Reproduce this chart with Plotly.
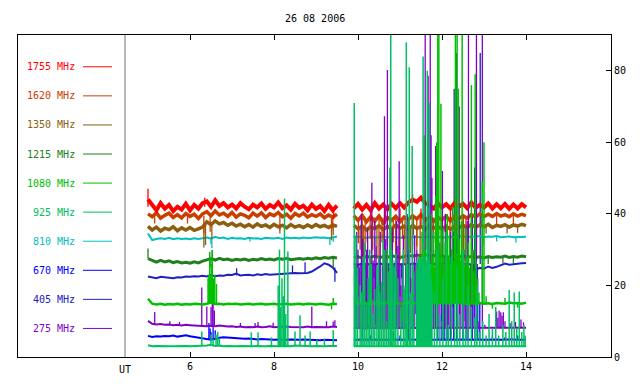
import plotly.graph_objects as go

TITLE = "26 08 2006"
X_TICKS = [6, 8, 10, 12, 14]
Y_TICKS = [0, 20, 40, 60, 80]
FREQS = ["1755 MHz", "1620 MHz", "1350 MHz", "1215 MHz", "1080 MHz",
         "925 MHz", "810 MHz", "670 MHz", "405 MHz", "275 MHz"]
COLORS = ["#ff0000", "#c84000", "#8a5f10", "#208020", "#00c000",
          "#00c060", "#00c0c0", "#0000ff", "#2020c0", "#8000c8"]

SEG1_START = 5.0   # UT hours, 0.1 h sampling
SEG2_START = 9.9

# ---------------- 1755 MHz ----------------
F1755_A = [44, 42.5, 41, 43, 41.5, 42.5, 40.8, 42, 41.2, 42.8, 41, 42.5, 41.5, 43, 43.5, 42, 43.8, 42.2, 43, 41.8,
           42.6, 41.5, 43, 42, 41.3, 42.6, 41.8, 42.9, 41.4, 42.5, 41.8, 43.2, 41.6, 42.4, 41.2, 42.8, 41.7, 42.3, 41, 42.6,
           41.4, 42.2, 40.8, 42.5, 41, 42.3]
F1755_B = [41.5, 42.8, 41.2, 42.5, 41, 43, 41.5, 42.6, 41.3, 42.8, 41.6, 43, 41.8, 43.2, 44, 43.4, 44.5, 43, 42.4, 41.5,
           43, 41.8, 42.7, 41.5, 43, 42, 42.8, 41.6, 43.2, 41.7, 42.5, 41.8, 42.9, 41.5, 42.7, 41.6, 42.8, 41.4, 42.6, 41.5,
           42.7, 41.8]
F1755_SPIKES = [(5.0, 42, 47), (9.42, 41, 38.5), (10.3, 41.5, 38), (10.65, 41.5, 37), (11.0, 41.5, 38.5),
                (11.5, 41.5, 37), (12.2, 41.5, 38), (6.35, 42, 44.5), (11.3, 43, 45.5)]

# ---------------- 1620 MHz ----------------
F1620_A = [40, 39.2, 40.3, 38.8, 39.6, 40.2, 39, 39.8, 38.9, 40.1, 39.3, 39.9, 38.7, 40, 40.6, 39.5, 40.8, 39.7, 40.2, 39.3,
           40.4, 39.1, 40, 39.6, 38.9, 40.2, 39.4, 40.3, 39, 40, 39.5, 40.4, 39.2, 39.9, 38.8, 40.1, 39.4, 40.2, 39.1, 39.8,
           39.3, 40, 38.9, 39.7, 39.1, 39.9]
F1620_B = [39.5, 38.2, 39.6, 37.8, 39.2, 38, 39.4, 37.5, 39, 38.2, 39.3, 37.8, 39.1, 38.4, 39.5, 38.6, 39.8, 38.3, 39.2, 37.9,
           39, 38.4, 39.3, 38, 39.4, 38.6, 39.5, 38.8, 39.8, 39.1, 40, 39.2, 39.9, 39.3, 40.1, 39.4, 39.8, 39.2, 40, 39.4,
           39.9, 39.5]
F1620_SPIKES = [(5.16, 39.5, 37.3), (5.94, 39.5, 37.3), (6.33, 39.5, 34.5), (6.48, 39.5, 35), (8.14, 39.5, 35.5),
                (9.37, 39.5, 35), (9.4, 39.5, 36),
                (10.01, 39, 31.8), (10.1, 39, 27), (10.17, 39, 29.5), (10.29, 39, 33), (10.35, 39, 30), (10.4, 39, 36),
                (10.5, 39, 26), (10.57, 39, 32), (10.62, 39, 24), (10.7, 39, 31), (10.76, 39, 28.5), (10.84, 39, 32),
                (10.9, 39, 27), (10.98, 39, 24.8), (11.06, 39, 33), (11.12, 39, 26), (11.2, 39, 29.5), (11.32, 39, 34),
                (11.4, 39, 31), (11.48, 39, 28), (11.57, 39, 26), (11.65, 39, 30), (11.73, 39, 29), (11.8, 39, 32),
                (11.91, 39, 33), (12.0, 39, 28), (12.07, 39, 35), (12.19, 39, 30), (12.25, 39, 27), (12.31, 39, 34),
                (12.4, 39, 31), (12.51, 39, 28.5), (12.57, 39, 30), (12.63, 39, 32), (12.7, 39, 28), (12.79, 39, 35),
                (12.95, 39.5, 36.5), (13.3, 39.5, 37), (13.7, 39.5, 37)]

# ---------------- 1350 MHz ----------------
F1350_A = [36.5, 35.5, 36.3, 35.2, 36, 35.6, 36.4, 35.3, 36.1, 35.5, 36.2, 35.4, 35.8, 36.3, 37.8, 37, 38, 37.2, 37.6, 36.8,
           37.4, 36.6, 37.1, 36.4, 37, 36.3, 37.2, 36.5, 36.9, 36.2, 37.1, 36.4, 36.8, 36.1, 37, 36.3, 36.7, 36.2, 36.9, 36.3,
           37, 36.4, 36.8, 36.2, 36.9, 36.5]
F1350_B = [36.8, 35.8, 36.6, 35.5, 36.4, 35.9, 36.7, 35.6, 36.5, 35.8, 36.9, 36, 36.6, 35.7, 36.8, 35.9, 36.5, 35.6, 36.7, 36,
           36.4, 35.8, 36.6, 35.7, 36.5, 36.1, 36.8, 36.2, 37, 36.3, 36.9, 36.4, 37.1, 36.2, 36.8, 36.5, 37, 36.3, 36.9, 36.6,
           37.1, 36.7]
F1350_SPIKES = [(6.33, 37, 30.6), (6.37, 37, 31.3), (6.52, 37, 33), (8.14, 36.5, 34.5), (9.37, 36.5, 32.6), (9.41, 36.5, 34),
                (10.05, 36.3, 30), (10.13, 36.3, 26), (10.22, 36.3, 32), (10.32, 36.3, 29), (10.45, 36.3, 28),
                (10.6, 36.3, 25), (10.7, 36.3, 31), (10.8, 36.3, 30), (10.9, 36.3, 29), (11.0, 36.3, 27),
                (11.1, 36.3, 33), (11.25, 36.3, 29), (11.4, 36.3, 30), (11.55, 36.3, 27), (11.7, 36.3, 31),
                (11.85, 36.3, 30), (12.1, 36.3, 32), (12.25, 36.3, 28), (12.4, 36.3, 30), (12.55, 36.3, 27),
                (12.7, 36.3, 33), (12.82, 36.3, 31), (13.05, 36.5, 34.5), (13.55, 36.5, 34.5), (13.8, 36.5, 34.7)]

# ---------------- 1215 MHz ----------------
F1215_A = [27.5, 27, 26.5, 27, 26.6, 26.9, 26.4, 26.7, 26.3, 26.5, 26.2, 26.6, 26.3, 26.8, 27.2, 27.5, 27.1, 27.6, 27.2, 27.4,
           27, 27.3, 27.1, 27.4, 27, 27.3, 27.1, 27.5, 27.2, 27.4, 27.1, 27.5, 27.3, 27.6, 27.2, 27.4, 27.5, 27.3, 27.6, 27.4,
           27.7, 27.5, 27.8, 27.6, 27.9, 27.7]
F1215_B = [27.8, 28.0, 27.7, 28.1, 27.9, 28.2, 27.8, 28.0, 27.9, 28.3, 28.0, 27.8, 28.1, 28.4, 28.2, 28.5, 28.3, 28.6, 28.2, 28.4,
           28.0, 28.3, 27.9, 28.1, 28.2, 28.0, 28.3, 27.9, 28.1, 27.8, 28.0, 27.7, 28.1, 27.8, 28.0, 27.9, 28.2, 27.8, 28.1, 27.9,
           28.2, 28.0]
F1215_SPIKES = [(5.0, 27.5, 30.3), (6.48, 27.3, 25.2), (9.41, 27.6, 24.8),
                (10.3, 28, 24), (10.8, 28, 22), (11.5, 28, 23), (12.2, 28, 24), (12.72, 28, 25.2),
                (13.1, 28, 26), (13.45, 28, 26.2), (13.7, 28, 26.2)]

# ---------------- 1080 MHz ----------------
F1080_A = [16.3, 14.9, 14.7, 14.9, 14.6, 14.8, 14.7, 14.9, 14.6, 14.8, 14.7, 14.9, 14.8, 14.7, 14.9, 15.2, 14.8, 14.9, 14.7, 14.9,
           14.8, 14.9, 14.7, 14.8, 14.9, 14.7, 14.8, 14.9, 14.7, 14.8, 14.9, 14.7, 14.8, 14.9, 14.7, 14.8, 14.9, 14.7, 14.9, 14.8,
           14.7, 14.9, 14.8, 14.6, 14.9, 14.8]
F1080_B = [14.8, 15.0, 14.9, 15.1, 14.8, 15.0, 14.9, 15.1, 15.0, 14.8, 15.1, 14.9, 15.0, 15.2, 14.9, 15.1, 15.0, 14.8, 15.1, 15.0,
           14.9, 15.0, 15.1, 14.9, 15.2, 15.0, 15.1, 14.7, 15.0, 14.8, 15.1, 14.9, 15.0, 14.8, 15.1, 15.0, 14.9, 15.2, 15.0, 15.1,
           14.9, 15.2]
F1080_SPIKES = [(6.43, 14.8, 22), (6.45, 14.8, 23), (6.47, 14.8, 29.4), (6.49, 14.8, 22.5), (6.51, 14.8, 26),
                (6.53, 14.8, 29.9), (6.56, 14.8, 22), (6.59, 14.8, 23), (6.63, 14.8, 20.4), (9.37, 14.8, 13.3),
                (9.41, 14.8, 16.5),
                (9.95, 15, 22), (10.1, 15, 18), (10.15, 15, 8), (10.25, 15, 9), (10.3, 15, 25), (10.5, 15, 20),
                (10.7, 15, 30), (10.9, 15, 24), (11.05, 15, 10), (11.1, 15, 19), (11.3, 15, 26), (11.4, 15, 22),
                (11.45, 15, 22), (11.475, 15, 28), (11.5, 15, 20), (11.525, 15, 35), (11.55, 15, 25), (11.575, 15, 62),
                (11.6, 15, 30), (11.625, 15, 24), (11.65, 15, 38), (11.675, 15, 27), (11.7, 15, 33), (11.725, 15, 22),
                (11.75, 15, 40), (11.775, 15, 28), (11.8, 15, 35), (11.825, 15, 25), (11.85, 15, 45), (11.875, 15, 60),
                (11.9, 15, 95), (11.925, 15, 95), (11.95, 15, 30), (11.975, 15, 70.8), (12.0, 15, 28), (12.025, 15, 36),
                (12.05, 15, 26), (12.075, 15, 32), (12.1, 15, 24), (12.125, 15, 40), (12.15, 15, 28), (12.175, 15, 34),
                (12.2, 15, 26), (12.225, 15, 30), (12.25, 15, 42), (12.275, 15, 27), (12.3, 15, 35), (12.32, 15, 95),
                (12.35, 15, 29), (12.36, 15, 95), (12.39, 15, 75), (12.41, 15, 33), (12.44, 15, 27), (12.46, 15, 38),
                (12.48, 15, 95), (12.51, 15, 30), (12.54, 15, 26), (12.57, 15, 36), (12.6, 15, 28), (12.63, 15, 32),
                (12.66, 15, 25), (12.7, 15, 76), (12.73, 15, 30), (12.76, 15, 24), (12.79, 15, 79), (12.81, 15, 27),
                (12.84, 15, 22), (12.88, 15, 18), (12.96, 15, 49), (13.0, 15, 60), (13.05, 15, 17),
                (13.2, 15, 13.5), (13.5, 15, 16.5), (13.8, 15, 13.8)]

# ---------------- 925 MHz ----------------
F925_A = [3.3, 3.0, 3.1, 3.0, 3.1, 3.0, 3.0, 3.1, 3.0, 3.1, 3.0, 3.0, 3.1, 3.0, 3.2, 3.4, 3.1, 3.2, 3.0, 3.1,
          3.0, 3.0, 3.1, 3.0, 3.1, 3.0, 3.1, 3.0, 3.0, 3.1, 3.0, 3.1, 3.0, 3.1, 3.0, 3.2, 3.1, 3.0, 3.1, 3.0,
          3.1, 3.0, 3.0, 3.1, 3.0, 3.1]
F925_B = [3.0, 3.1, 3.0, 3.1, 3.0, 3.0, 3.1, 3.0, 3.1, 3.0, 3.0, 3.1, 3.0, 3.1, 3.0, 3.1, 3.0, 3.0, 3.1, 3.0,
          3.1, 3.0, 3.0, 3.1, 3.0, 3.1, 3.0, 3.0, 3.1, 3.0, 3.1, 3.0, 3.0, 3.1, 3.0, 3.1, 3.0, 3.0, 3.1, 3.0,
          3.1, 3.0]
F925_SPIKES = [(6.28, 3, 7.1), (6.5, 3, 6.3), (6.55, 3, 5), (6.62, 3, 6.3), (6.66, 3, 7), (6.7, 3, 5.2),
               (7.46, 3, 6.9), (7.62, 3, 6.9), (7.94, 3, 5.5), (8.1, 3, 20), (8.13, 3, 30), (8.16, 3, 14),
               (8.19, 3, 22), (8.22, 3, 17), (8.25, 3, 44.3), (8.28, 3, 12), (8.33, 3, 29.5), (8.5, 3, 7.1),
               (8.62, 3, 11.7), (8.74, 3, 6.0), (8.86, 3, 7.1), (9.02, 3, 4.8), (9.2, 3, 5), (9.41, 3, 7.5),
               (9.91, 3, 71), (9.95, 3, 34), (9.99, 3, 25), (10.05, 3, 20), (10.09, 3, 18), (10.12, 3, 28),
               (10.16, 3, 32), (10.2, 3, 15), (10.24, 3, 22), (10.28, 3, 30), (10.32, 3, 26), (10.36, 3, 12),
               (10.4, 3, 19), (10.45, 3, 25), (10.49, 3, 28), (10.52, 3, 18), (10.56, 3, 21), (10.6, 3, 33),
               (10.64, 3, 30), (10.68, 3, 10), (10.72, 3, 24), (10.76, 3, 53),
               (10.78, 3, 95), (10.8, 3, 30), (10.83, 3, 27), (10.86, 3, 25), (10.9, 3, 29), (10.95, 3, 22),
               (11.02, 3, 14), (11.08, 3, 30), (11.12, 3, 20), (11.15, 3, 88), (11.18, 3, 26), (11.22, 3, 81),
               (11.25, 3, 18), (11.29, 3, 59), (11.33, 3, 24), (11.40, 3, 27), (11.42, 3, 25), (11.44, 3, 28),
               (11.46, 3, 26), (11.48, 3, 27), (11.50, 3, 24), (11.52, 3, 28), (11.54, 3, 26), (11.55, 3, 84),
               (11.56, 3, 27), (11.58, 3, 25), (11.60, 3, 28), (11.62, 3, 26), (11.64, 3, 27), (11.65, 3, 80),
               (11.66, 3, 25), (11.68, 3, 27), (11.70, 3, 71), (11.72, 3, 26), (11.74, 3, 22), (11.76, 3, 20),
               (11.82, 3, 18), (11.88, 3, 30), (11.95, 3, 12), (12.02, 3, 22), (12.1, 3, 35), (12.15, 3, 9),
               (12.22, 3, 28), (12.3, 3, 16), (12.36, 3, 25), (12.42, 3, 12), (12.5, 3, 30), (12.56, 3, 8),
               (12.62, 3, 20), (12.7, 3, 14), (12.78, 3, 11), (12.83, 3, 20), (12.9, 3, 7), (12.97, 3, 10),
               (13.05, 3, 6), (13.12, 3, 12), (13.2, 3, 8), (13.28, 3, 14), (13.35, 3, 6), (13.45, 3, 9),
               (13.52, 3, 7), (13.6, 3, 18.7), (13.66, 3, 10), (13.72, 3, 18), (13.78, 3, 8), (13.84, 3, 18.3),
               (13.9, 3, 7), (13.95, 3, 9), (13.98, 3, 6)]

# ---------------- 810 MHz ----------------
F810_A = [34.5, 32.7, 33, 33.2, 33, 33.3, 32.9, 33.2, 33, 33.1, 32.9, 33.2, 33, 33.3, 33.4, 33.1, 33.6, 33.2, 33.4, 33,
          33.3, 33.1, 33.2, 33, 33.3, 33.1, 33.2, 33, 33.3, 33.2, 33.1, 33.3, 33, 33.4, 33.2, 33.3, 33.1, 33.4, 33.2, 33.3,
          33.5, 33.3, 33.4, 33.2, 33.5, 33.7]
F810_B = [33.4, 33.6, 33.5, 33.3, 33.6, 33.4, 33.5, 33.7, 33.4, 33.6, 33.5, 33.3, 33.6, 33.4, 33.5, 33.6, 33.4, 33.5, 33.7, 33.4,
          33.6, 33.5, 33.4, 33.6, 33.5, 33.7, 33.8, 33.5, 33.7, 33.6, 33.8, 33.5, 33.7, 33.6, 33.8, 33.5, 33.6, 33.7, 33.5, 33.6,
          33.5, 33.6]
F810_SPIKES = [(6.5, 33.3, 31.5), (6.52, 33.3, 30.5), (7.43, 33.2, 32.3), (9.33, 33.4, 31.3), (9.41, 33.4, 32.2),
               (10.1, 33.5, 30), (10.4, 33.5, 31), (10.9, 33.5, 29), (11.3, 33.5, 31), (11.9, 33.5, 30),
               (12.5, 33.5, 31), (12.98, 33.6, 31.3), (13.3, 33.6, 32.3), (13.76, 33.6, 32)]

# ---------------- 670 MHz ----------------
F670_A = [5.9, 5.6, 5.8, 5.7, 5.9, 5.8, 6.0, 5.7, 5.9, 6.1, 5.8, 5.6, 5.3, 5.2, 4.9, 4.8, 5.0, 5.4, 5.5, 5.4,
          5.5, 5.3, 5.2, 5.1, 5.2, 5.0, 4.9, 5.0, 4.9, 4.9, 4.8, 4.9, 4.8, 4.8, 4.9, 4.8, 4.8, 4.9, 4.8, 4.8,
          4.8, 4.7, 4.8, 4.7, 4.8, 4.7]
F670_B = [4.8, 4.9, 4.8, 4.9, 4.8, 4.9, 4.9, 4.8, 4.9, 4.8, 4.9, 4.8, 4.9, 4.8, 4.9, 4.8, 4.9, 4.8, 4.9, 4.8,
          4.9, 4.8, 4.9, 4.8, 4.9, 4.8, 4.9, 4.8, 4.9, 4.8, 4.9, 4.8, 4.9, 4.8, 4.9, 4.8, 4.9, 4.8, 4.9, 4.8,
          4.9, 4.8]
F670_SPIKES = [(6.45, 4.9, 9.5), (6.48, 4.9, 8), (6.5, 5, 7), (6.55, 5, 9), (6.6, 5, 7.5),
               (10.1, 4.85, 8), (10.3, 4.85, 6), (10.5, 4.85, 12), (10.84, 4.85, 7), (11.0, 4.85, 6),
               (11.2, 4.85, 10), (11.45, 4.85, 9), (11.6, 4.85, 14), (11.75, 4.85, 8), (11.9, 4.85, 18),
               (12.0, 4.85, 25), (12.05, 4.85, 15), (12.12, 4.85, 30), (12.2, 4.85, 22), (12.28, 4.85, 35),
               (12.35, 4.85, 20), (12.42, 4.85, 28), (12.5, 4.85, 18), (12.57, 4.85, 25), (12.62, 4.85, 30),
               (12.72, 4.85, 40), (12.78, 4.85, 53), (12.85, 4.85, 22), (12.9, 4.85, 15), (13.2, 4.85, 6),
               (13.5, 4.85, 5.5), (13.8, 4.85, 6)]

# ---------------- 405 MHz ----------------
F405_A = [22.5, 22.3, 22.0, 22.4, 22.2, 22.1, 22.0, 22.3, 22.2, 22.5, 22.4, 22.6, 22.5, 22.7, 22.5, 22.9, 22.6, 22.8, 22.7, 23.0,
          22.9, 23.3, 22.8, 22.9, 23.0, 22.8, 23.1, 22.9, 23.2, 23.0, 23.1, 23.2, 23.3, 23.4, 23.3, 23.5, 23.4, 23.4, 23.5, 23.9,
          24.5, 25.3, 26.2, 25.8, 25.0, 23.5]
F405_B = [26.0, 25.8, 26.1, 25.9, 26.0, 25.8, 26.2, 25.9, 26.0, 25.8, 26.1, 25.9, 26.0, 25.8, 26.1, 26.0, 25.9, 26.1, 25.8, 26.0,
          26.1, 25.9, 26.0, 26.1, 25.9, 26.0, 25.8, 26.0, 25.9, 24.4, 24.9, 24.7, 25.3, 24.9, 25.2, 25.7, 26.1, 25.8, 26.0, 26.1,
          26.2, 26.3]
F405_SPIKES = [(7.11, 22.8, 24.8), (8.44, 23.4, 25.6), (8.74, 23.5, 26.5), (9.45, 25.0, 21.0),
               (9.92, 26, 8), (9.95, 26, 12), (9.98, 26, 15), (10.02, 26, 17), (10.07, 26, 20), (10.1, 26, 9),
               (10.15, 26, 12), (10.18, 26, 14), (10.22, 26, 18), (10.27, 26, 11), (10.31, 26, 9), (10.35, 26, 16),
               (10.38, 26, 22), (10.42, 26, 9), (10.48, 26, 16), (10.52, 26, 13), (10.58, 26, 10), (10.62, 26, 8),
               (10.65, 26, 20), (10.69, 26, 16), (10.72, 26, 14), (10.77, 26, 10), (10.84, 26, 15), (10.88, 26, 18),
               (10.92, 26, 12), (10.96, 26, 8), (11.0, 26, 17), (11.04, 26, 22), (11.08, 26, 10), (11.14, 26, 16),
               (11.18, 26, 14), (11.24, 26, 9), (11.3, 26, 20), (11.34, 26, 16), (11.38, 26, 12), (11.42, 26, 19),
               (11.6, 26, 20), (11.8, 26, 18), (11.9, 26, 16), (12.0, 26, 10), (12.1, 26, 12), (12.18, 26, 20),
               (12.26, 26, 14), (12.29, 26, 75), (12.34, 26, 85), (12.35, 26, 15), (12.44, 26, 22), (12.52, 26, 10),
               (12.6, 26, 18), (12.68, 26, 16), (12.75, 26, 20), (12.84, 26, 21), (12.91, 26, 85)]

# ---------------- 275 MHz ----------------
F275_A = [10.1, 9.3, 9.1, 9.2, 9.0, 9.1, 8.9, 9.0, 8.8, 9.0, 8.9, 8.8, 8.7, 8.8, 8.6, 8.7, 8.6, 8.8, 8.6, 8.5,
          8.6, 8.4, 8.5, 8.3, 8.4, 8.3, 8.5, 8.3, 8.4, 8.6, 8.3, 8.4, 8.3, 8.5, 8.4, 8.3, 8.4, 8.3, 8.5, 8.3,
          8.4, 8.3, 8.4, 8.3, 8.5, 8.4]
F275_B = [8.2, 8.1, 8.2, 8.0, 8.1, 8.2, 8.1, 8.0, 8.2, 8.1, 8.1, 8.0, 8.2, 8.1, 8.2, 8.0, 8.1, 8.2, 8.1, 8.0,
          8.2, 8.1, 8.1, 8.0, 8.2, 8.1, 8.2, 8.0, 8.1, 8.2, 8.1, 8.0, 8.2, 8.1, 8.1, 8.0, 8.2, 8.1, 8.2, 8.0,
          8.1, 8.2]
F275_SPIKES = [(5.16, 9.1, 12.6), (5.52, 9.0, 10), (5.75, 9.0, 9.8), (6.28, 8.7, 19.4), (6.4, 8.7, 14.1),
               (6.5, 8.7, 14.0), (6.53, 8.7, 29.9), (6.55, 8.7, 19), (6.58, 8.7, 13), (7.2, 8.4, 9.5),
               (7.55, 8.3, 9.5), (7.62, 8.3, 9.8), (7.98, 8.3, 9.6), (8.9, 8.4, 14.1), (9.25, 8.3, 10),
               (9.41, 8.4, 9.9), (9.45, 8.4, 10.3),
               (9.93, 8.1, 20), (9.97, 8.1, 35), (10.0, 8.1, 30), (10.03, 8.1, 25), (10.05, 8.1, 15), (10.08, 8.1, 40),
               (10.11, 8.1, 33), (10.14, 8.1, 18), (10.17, 8.1, 24), (10.2, 8.1, 30), (10.23, 8.1, 36),
               (10.25, 8.1, 22), (10.29, 8.1, 19), (10.33, 8.1, 48.7), (10.36, 8.1, 27), (10.4, 8.1, 38),
               (10.43, 8.1, 31), (10.45, 8.1, 15), (10.48, 8.1, 20), (10.5, 8.1, 28), (10.53, 8.1, 35),
               (10.56, 8.1, 20), (10.59, 8.1, 24), (10.63, 8.1, 67.3), (10.66, 8.1, 33), (10.69, 8.1, 30),
               (10.70, 8.1, 80.2), (10.74, 8.1, 25), (10.78, 8.1, 22), (10.82, 8.1, 36), (10.85, 8.1, 20),
               (10.89, 8.1, 27), (10.92, 8.1, 38), (10.95, 8.1, 31), (10.98, 8.1, 54.7), (11.02, 8.1, 20),
               (11.05, 8.1, 26), (11.08, 8.1, 34), (11.1, 8.1, 18), (11.14, 8.1, 25), (11.17, 8.1, 40),
               (11.2, 8.1, 30), (11.23, 8.1, 28), (11.26, 8.1, 22), (11.3, 8.1, 36), (11.32, 8.1, 20),
               (11.35, 8.1, 34), (11.4, 8.1, 30), (11.45, 8.1, 15), (11.5, 8.1, 25), (11.55, 8.1, 20),
               (11.60, 8.1, 95), (11.67, 8.1, 78.6), (11.72, 8.1, 95), (11.74, 8.1, 62), (11.76, 8.1, 50),
               (11.8, 8.1, 30), (11.85, 8.1, 59), (11.9, 8.1, 20), (11.95, 8.1, 32), (12.01, 8.1, 52),
               (12.05, 8.1, 28), (12.08, 8.1, 40), (12.12, 8.1, 18), (12.16, 8.1, 26), (12.2, 8.1, 35),
               (12.24, 8.1, 30), (12.3, 8.1, 22), (12.37, 8.1, 34), (12.41, 8.1, 70), (12.45, 8.1, 22),
               (12.5, 8.1, 26), (12.55, 8.1, 30), (12.6, 8.1, 38), (12.63, 8.1, 95), (12.67, 8.1, 24),
               (12.7, 8.1, 16), (12.76, 8.1, 30), (12.82, 8.1, 95), (12.88, 8.1, 10), (12.96, 8.1, 95),
               (13.02, 8.1, 9), (13.3, 8.1, 12.7), (13.33, 8.1, 11), (13.36, 8.1, 13), (13.4, 8.1, 12.5),
               (13.43, 8.1, 11.5), (13.46, 8.1, 12.5), (13.5, 8.1, 10), (13.62, 8.1, 9.5), (13.75, 8.1, 9.8),
               (13.88, 8.1, 10.5), (13.94, 8.1, 9.7)]

SERIES_A = [F1755_A, F1620_A, F1350_A, F1215_A, F1080_A, F925_A, F810_A, F670_A, F405_A, F275_A]
SERIES_B = [F1755_B, F1620_B, F1350_B, F1215_B, F1080_B, F925_B, F810_B, F670_B, F405_B, F275_B]
SERIES_SPIKES = [F1755_SPIKES, F1620_SPIKES, F1350_SPIKES, F1215_SPIKES, F1080_SPIKES,
                 F925_SPIKES, F810_SPIKES, F670_SPIKES, F405_SPIKES, F275_SPIKES]

# drawing style (not data)
BASE_WIDTH = [4.0, 3.5, 3.5, 3.0, 2.5, 2.0, 2.0, 2.0, 2.0, 2.0]
SPIKE_WIDTH = [1.3, 1.3, 1.3, 1.3, 1.5, 1.5, 1.3, 1.3, 1.3, 1.3]
DRAW_ORDER = [8, 7, 3, 6, 2, 1, 0, 9, 4, 5]


def times(start, n):
    return [round(start + 0.1 * i, 3) for i in range(n)]


fig = go.Figure()
for k in DRAW_ORDER:
    a, b = SERIES_A[k], SERIES_B[k]
    xs = times(SEG1_START, len(a)) + [None] + times(SEG2_START, len(b))
    ys = a + [None] + b
    fig.add_trace(go.Scatter(x=xs, y=ys, mode="lines", line=dict(color=COLORS[k], width=BASE_WIDTH[k]),
                             hoverinfo="skip", name=FREQS[k]))
    sx, sy = [], []
    for t, lo, hi in SERIES_SPIKES[k]:
        sx += [t, t, None]
        sy += [lo, hi, None]
    fig.add_trace(go.Scatter(x=sx, y=sy, mode="lines", line=dict(color=COLORS[k], width=SPIKE_WIDTH[k]),
                             hoverinfo="skip", name=FREQS[k]))

# layout geometry (pixels)
L, R, T, B = 18, 611, 35, 359
W_PX, H_PX = R - L, B - T
X_LO, X_HI = 6 - (190 - L) / 42.0, 6 + (R - 190) / 42.0
SEP_X = 6 + (125 - 190) / 42.0

annotations = [dict(text=TITLE, x=0.5, y=(B - 18) / H_PX, xref="paper", yref="paper", showarrow=False,
                    xanchor="center", yanchor="middle", font=dict(size=10)),
               dict(text="UT", x=SEP_X, y=0, xref="x", yref="paper", showarrow=False, xanchor="center",
                    yanchor="top", yshift=-5, font=dict(size=10))]
shapes = [dict(type="line", xref="x", yref="paper", x0=SEP_X, x1=SEP_X, y0=0, y1=1,
               line=dict(color="#707070", width=1))]
for i, name in enumerate(FREQS):
    ypx = 67 + 29.25 * i
    yp = (B - ypx) / H_PX
    annotations.append(dict(text=name, x=(77 - L) / W_PX, y=yp, xref="paper", yref="paper", showarrow=False,
                            xanchor="right", yanchor="middle", font=dict(size=10, color=COLORS[i])))
    shapes.append(dict(type="line", xref="paper", yref="paper", x0=(83 - L) / W_PX, x1=(112 - L) / W_PX,
                       y0=yp, y1=yp, line=dict(color=COLORS[i], width=1)))

fig.update_layout(
    width=640, height=384,
    margin=dict(l=L, r=640 - R, t=T, b=384 - B, pad=0),
    paper_bgcolor="white", plot_bgcolor="white", showlegend=False,
    font=dict(family="DejaVu Sans Mono", size=10, color="black"),
    annotations=annotations, shapes=shapes,
    xaxis=dict(range=[X_LO, X_HI], tickvals=X_TICKS, ticktext=[str(v) for v in X_TICKS], ticks="inside",
               ticklen=5, tickcolor="black", mirror="ticks", showline=True, linecolor="black", linewidth=1,
               showgrid=False, zeroline=False, fixedrange=True),
    yaxis=dict(range=[0, 90], side="right", tickvals=Y_TICKS, ticktext=[str(v) for v in Y_TICKS], ticks="inside",
               ticklen=5, tickcolor="black", mirror=True, showline=True, linecolor="black", linewidth=1,
               showgrid=False, zeroline=False, fixedrange=True),
)

fig.write_html("out.html", config={"displayModeBar": False},
               post_script="document.body.style.margin='0';")
